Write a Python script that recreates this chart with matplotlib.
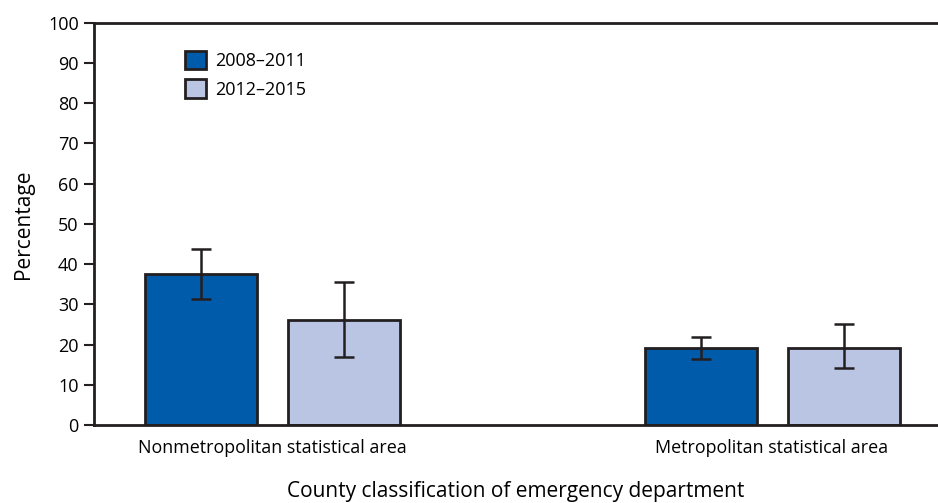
import numpy as np
import matplotlib
matplotlib.use("Agg")
import matplotlib.pyplot as plt
from matplotlib.patches import Patch

plt.rcParams['font.family'] = ['Open Sans', 'DejaVu Sans']

areas = ["Nonmetropolitan statistical area", "Metropolitan statistical area"]
periods = ["2008\u20132011", "2012\u20132015"]
pct_0811 = [37.4, 19.1]
lo_0811 = [31.3, 16.5]
hi_0811 = [43.7, 21.8]
pct_1215 = [26.0, 19.1]
lo_1215 = [17.0, 14.1]
hi_1215 = [35.6, 25.1]

dark = "#005BAA"
light = "#B9C5E3"
edge = "#231F20"

fig = plt.figure(figsize=(9.38, 5.03), dpi=100)
ax = fig.add_axes([94/938, 1-425/503, 1-94/938, (425-22.5)/503])

x = np.arange(len(areas))
w = 0.224
off = 0.143
for vals, lo, hi, col, sh in [(pct_0811, lo_0811, hi_0811, dark, -off),
                              (pct_1215, lo_1215, hi_1215, light, off)]:
    vals = np.array(vals)
    err = [vals - np.array(lo), np.array(hi) - vals]
    ax.bar(x + sh, vals, w, color=col, edgecolor=edge, linewidth=2, zorder=2)
    ax.errorbar(x + sh, vals, yerr=err, fmt="none", ecolor=edge,
                elinewidth=1.8, capsize=7, capthick=1.8, zorder=3)

ax.set_xlim(-0.356, 1.332)
ax.set_ylim(0, 100)
ax.set_yticks(range(0, 101, 10))
ax.set_xticks(x)
ax.set_xticklabels(areas)
ax.tick_params(axis="x", length=0, pad=10, labelsize=12.9)
ax.tick_params(axis="y", length=7, width=1.5, color=edge, labelsize=13, pad=4)
for s in ["left", "bottom", "top"]:
    ax.spines[s].set_color(edge)
    ax.spines[s].set_linewidth(2)
ax.spines["right"].set_visible(False)

ax.set_ylabel("Percentage", fontsize=15, labelpad=10)
ax.set_xlabel("County classification of emergency department", fontsize=15, labelpad=17)

handles = [Patch(facecolor=dark, edgecolor=edge, linewidth=2),
           Patch(facecolor=light, edgecolor=edge, linewidth=2)]
ax.legend(handles, periods, loc="upper left", bbox_to_anchor=(0.088, 0.97),
          frameon=False, fontsize=13, handlelength=1.2, handleheight=1.2,
          handletextpad=0.5, labelspacing=0.5)

fig.savefig("out.png", dpi=100)
